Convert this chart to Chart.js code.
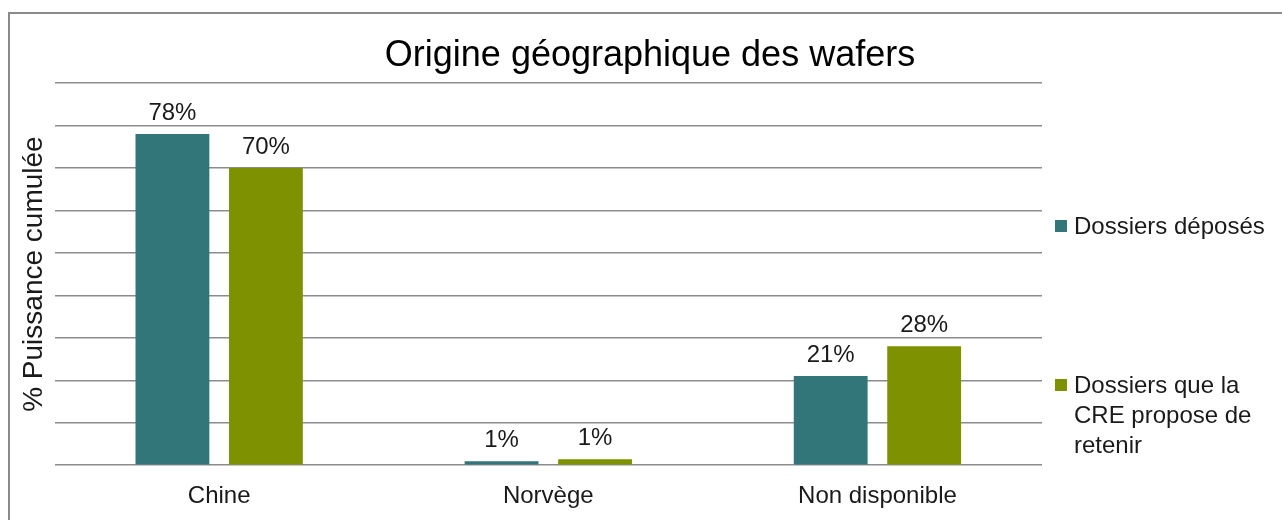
<!DOCTYPE html>
<html lang="fr">
<head>
<meta charset="utf-8">
<title>Origine géographique des wafers</title>
<script src="https://cdn.jsdelivr.net/npm/chart.js@4.4.1/dist/chart.umd.min.js"></script>
<style>
    html, body { margin: 0; padding: 0; background: #fff; overflow: hidden; }
    #wrap { position: relative; width: 1282px; height: 520px; }
    #frame {
        position: absolute; left: 8px; top: 12px; width: 1300px; height: 520px;
        border-left: 2px solid #8a8a8a; border-top: 2px solid #8a8a8a;
    }
    canvas { position: absolute; left: 0; top: 0; }
    .legend { position: absolute; left: 1055px; font-family: 'Liberation Sans', Arial, sans-serif;
        font-size: 24px; color: #1a1a1a; line-height: 30px; }
    .legend .box { position: absolute; left: 0; top: 9px; width: 12px; height: 12px; }
    .legend .txt { margin-left: 19px; display: block; }
</style>
</head>
<body>
<div id="wrap">
    <div id="frame"></div>
    <canvas id="wafersChart" width="1282" height="520"></canvas>
    <div class="legend" id="leg1" style="top:211px;"></div>
    <div class="legend" id="leg2" style="top:370px;"></div>
</div>
<script>
// Values
const chartTitle = 'Origine géographique des wafers';
const categories = ['Chine', 'Norvège', 'Non disponible'];
const seriesNames = ['Dossiers déposés', 'Dossiers que la CRE propose de retenir'];
const deposes = [78, 0.95, 21];
const retenus = [70, 1.4, 28];
const colors = ['#327679', '#7e9100'];

// Legend (HTML so the second label wraps like in the original)
function buildLegend() {
    const legendLines = [['Dossiers déposés'], ['Dossiers que la', 'CRE propose de', 'retenir']];
    ['leg1', 'leg2'].forEach((id, i) => {
        const el = document.getElementById(id);
        el.innerHTML = '<span class="box" style="background:' + colors[i] + '"></span>' +
            '<span class="txt">' + legendLines[i].join('<br>') + '</span>';
        el.title = seriesNames[i];
    });
}

// Title centred on the whole frame, not only on the plot area
const centredTitle = {
    id: 'centredTitle',
    afterDraw(chart) {
        const ctx = chart.ctx;
        ctx.save();
        ctx.font = '36px "Liberation Sans", Arial, sans-serif';
        ctx.fillStyle = '#000';
        ctx.textAlign = 'center';
        ctx.textBaseline = 'alphabetic';
        ctx.fillText(chartTitle, 650, 66);
        ctx.restore();
    }
};

// Value labels on top of the bars
const valueLabels = {
    id: 'valueLabels',
    afterDatasetsDraw(chart) {
        const ctx = chart.ctx;
        ctx.save();
        ctx.font = '24px "Liberation Sans", Arial, sans-serif';
        ctx.fillStyle = '#1a1a1a';
        ctx.textAlign = 'center';
        ctx.textBaseline = 'alphabetic';
        chart.data.datasets.forEach((ds, i) => {
            chart.getDatasetMeta(i).data.forEach((bar, j) => {
                ctx.fillText(Math.round(ds.data[j]) + '%', bar.x, bar.y - 14);
            });
        });
        ctx.restore();
    }
};

function displayWafersChart() {
    const ctx = document.getElementById('wafersChart').getContext('2d');
    new Chart(ctx, {
        type: 'bar',
        data: {
            labels: categories,
            datasets: [
                { label: seriesNames[0], data: deposes, backgroundColor: colors[0] },
                { label: seriesNames[1], data: retenus, backgroundColor: colors[1] }
            ]
        },
        options: {
            responsive: false,
            devicePixelRatio: 1,
            animation: false,
            categoryPercentage: 0.568,
            barPercentage: 0.79,
            layout: { padding: { left: 13, right: 240, top: 83, bottom: -8 } },
            plugins: {
                legend: { display: false },
                tooltip: { enabled: false },
                title: { display: false }
            },
            scales: {
                x: {
                    grid: { display: false, drawTicks: false },
                    border: { display: false },
                    ticks: {
                        color: '#1a1a1a',
                        padding: 17,
                        font: { family: '"Liberation Sans", Arial, sans-serif', size: 24 }
                    }
                },
                y: {
                    min: 0,
                    max: 90,
                    ticks: { display: false, stepSize: 10 },
                    grid: { color: '#8c8c8c', lineWidth: 1.5, drawTicks: false },
                    border: { display: false },
                    title: {
                        display: true,
                        text: '% Puissance cumulée',
                        color: '#1a1a1a',
                        font: { family: '"Liberation Sans", Arial, sans-serif', size: 28 }
                    }
                }
            }
        },
        plugins: [valueLabels, centredTitle]
    });
}

buildLegend();
displayWafersChart();
</script>
</body>
</html>
